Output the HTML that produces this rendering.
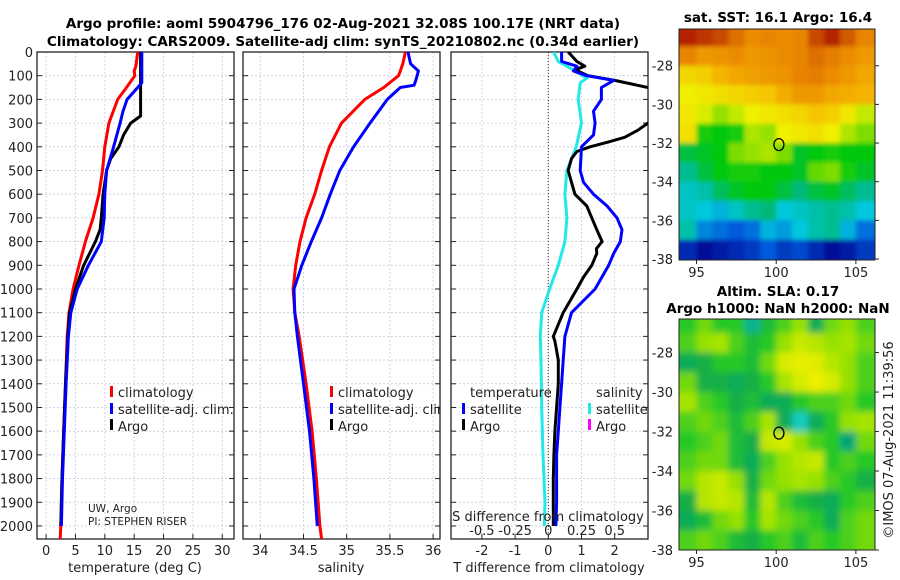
<!DOCTYPE html>
<html><head><meta charset="utf-8"><style>
body{margin:0;background:#fff;}
svg{display:block;font-family:"DejaVu Sans","Liberation Sans",sans-serif;}
.t{font-size:13px;fill:#222;}
.b{font-size:13.5px;font-weight:bold;fill:#000;}
</style></head><body>
<svg id="fig" width="900" height="580" viewBox="0 0 900 580" xmlns="http://www.w3.org/2000/svg">
<defs>
<clipPath id="c1"><rect x="37" y="52" width="197" height="487"/></clipPath>
<clipPath id="c2"><rect x="243" y="52" width="197" height="487"/></clipPath>
<clipPath id="c3"><rect x="451" y="52" width="197" height="487"/></clipPath>
<clipPath id="cm1"><rect x="679" y="29" width="196" height="231"/></clipPath>
<clipPath id="cm2"><rect x="679" y="319" width="196" height="231"/></clipPath>
<filter id="blur5" x="-10%" y="-10%" width="120%" height="120%"><feGaussianBlur stdDeviation="3.5"/></filter>
<filter id="blur2" x="-10%" y="-10%" width="120%" height="120%"><feGaussianBlur stdDeviation="2"/></filter>
</defs>
<text class="b" x="343" y="28" text-anchor="middle">Argo profile: aoml 5904796_176 02-Aug-2021 32.08S 100.17E (NRT data)</text>
<text class="b" x="343" y="46" text-anchor="middle">Climatology: CARS2009. Satellite-adj clim: synTS_20210802.nc (0.34d earlier)</text>
<g id="layer"></g>
</svg>
<script>
// ---------- data ----------
const depthTicks=[0,100,200,300,400,500,600,700,800,900,1000,1100,1200,1300,1400,1500,1600,1700,1800,1900,2000];
const tTickLabels=[0,5,10,15,20,25,30];
const sTickLabels=[34,34.5,35,35.5,36];
const dTTicks=[-2,-1,0,1,2];
const dSTickLabels=["-0.5","-0.25","0","0.25","0.5"];
const dSTicks=[-0.5,-0.25,0,0.25,0.5];

const tempClimDepth=[0,60,80,100,150,200,300,400,500,600,700,800,900,1000,1100,1200,1400,1600,1800,2000,2055];
const tempClim=[15.6,15.3,15.0,15.1,13.7,12.2,10.7,10.0,9.6,9.0,8.0,6.7,5.6,4.6,3.9,3.6,3.3,3.0,2.7,2.5,2.4];
const tempSatDepth=[0,130,150,200,250,300,400,500,600,700,800,900,1000,1100,1200,1400,1600,1800,2000];
const tempSat=[16.3,16.3,15.6,13.8,13.1,12.6,11.5,10.3,10.0,9.9,9.4,7.2,5.3,4.2,3.8,3.4,3.1,2.8,2.6];
const tempArgoDepth=[0,270,300,350,400,450,500,600,700,750,800,900,1000,1100,1200,1400,1600,1800,2000];
const tempArgo=[16.1,16.1,14.4,13.2,12.4,11.0,10.3,9.7,9.4,9.2,8.4,6.4,5.0,4.0,3.7,3.3,3.0,2.7,2.5];

const salClimDepth=[0,50,80,100,150,200,300,400,500,600,700,800,900,1000,1100,1200,1400,1600,1800,2000,2055];
const salClim=[35.68,35.65,35.62,35.60,35.43,35.21,34.94,34.80,34.71,34.63,34.53,34.46,34.41,34.38,34.40,34.45,34.53,34.60,34.65,34.69,34.71];
const salSatDepth=[0,50,80,120,140,150,200,300,400,500,600,700,800,900,1000,1100,1200,1400,1600,1800,2000];
const salSat=[35.71,35.74,35.83,35.80,35.78,35.62,35.47,35.27,35.08,34.92,34.81,34.71,34.59,34.48,34.39,34.40,34.43,34.50,34.57,34.62,34.66];

const dTArgoDepth=[0,40,60,75,100,120,150,200,250,300,330,360,380,400,420,450,500,550,600,650,700,750,800,830,850,900,950,1000,1100,1200,1220,1300,1400,1500,1600,1700,1800,1900,2000];
const dTArgo=[0.6,0.86,1.1,0.8,1.2,2.0,3.0,3.8,3.8,3.0,2.7,2.3,1.8,1.26,0.86,0.7,0.6,0.7,0.8,1.16,1.31,1.46,1.62,1.45,1.46,1.31,1.06,0.86,0.45,0.15,0.2,0.3,0.3,0.25,0.2,0.17,0.15,0.15,0.15];
const dTSatDepth=[0,40,60,80,100,120,150,200,250,300,350,400,500,550,600,650,700,750,800,850,900,1000,1100,1200,1300,1400,1500,1600,1700,1800,1900,2000];
const dTSat=[0.4,0.4,0.86,0.76,1.16,1.97,1.6,1.6,1.36,1.41,1.36,1.0,0.96,1.06,1.36,1.77,2.07,2.22,2.17,1.97,1.82,1.41,0.7,0.5,0.45,0.4,0.35,0.3,0.25,0.25,0.25,0.23];
const dSSatDepth=[0,40,60,80,110,130,200,300,400,500,600,700,800,900,1000,1100,1200,1300,1500,1700,1900,2000];
const dSSat=[0.04,0.075,0.14,0.2,0.29,0.24,0.225,0.25,0.21,0.14,0.125,0.14,0.125,0.075,0.01,-0.05,-0.06,-0.055,-0.05,-0.04,-0.025,-0.03];

// SST map (rows -26..-38, cols 94..106 by 1 deg)
const sstGrid=[
[18.8,18.7,18.6,18.2,17.8,17.9,17.8,17.9,18.6,18.8,18.5,17.9],
[17.9,17.6,17.7,17.8,17.6,17.7,17.8,17.9,18.2,18.0,17.8,17.6],
[16.8,16.9,17.2,17.4,17.5,17.6,17.7,17.9,18.0,17.8,17.6,17.4],
[16.5,16.6,16.7,16.8,16.9,17.0,17.3,17.6,17.6,17.4,17.3,17.2],
[16.6,16.4,16.1,16.3,16.5,16.6,16.7,16.8,17.0,16.9,16.6,16.3],
[16.7,15.6,15.5,15.6,16.2,16.1,16.5,16.6,16.7,16.5,16.2,16.0],
[15.3,15.4,15.5,16.0,16.1,16.2,16.0,15.4,15.5,15.6,15.5,15.5],
[15.0,15.3,15.5,15.6,15.6,15.5,15.5,15.4,15.9,16.0,15.6,15.4],
[14.8,14.9,15.2,15.4,15.5,15.5,15.3,15.1,15.3,15.4,15.2,15.0],
[14.8,14.7,14.6,14.8,15.0,15.1,14.7,14.8,14.9,15.0,14.9,14.7],
[14.9,14.4,14.3,14.2,14.3,14.6,14.5,14.7,14.9,15.0,14.6,14.3],
[13.9,13.7,13.8,13.9,14.0,14.2,14.0,14.1,13.9,13.6,13.8,14.0]];
const slaGrid=[
[0.45,0.55,0.45,0.45,0.15,0.4,0.5,0.6,0.3,0.55,0.6,0.5],
[0.5,0.6,0.65,0.5,0.4,0.45,0.6,0.75,0.7,0.6,0.65,0.55],
[0.3,0.35,0.45,0.45,0.4,0.55,0.8,0.9,0.85,0.7,0.6,0.5],
[0.55,0.35,0.35,0.3,0.35,0.45,0.65,0.8,0.95,0.8,0.6,0.5],
[0.65,0.5,0.45,0.35,0.4,0.3,0.3,0.45,0.5,0.5,0.55,0.45],
[0.5,0.55,0.5,0.4,0.5,0.65,0.3,0.05,0.3,0.45,0.6,0.65],
[0.45,0.5,0.55,0.4,0.35,0.75,0.8,0.6,0.5,0.45,0.2,0.55],
[0.5,0.55,0.55,0.4,0.3,0.5,0.6,0.7,0.75,0.45,0.5,0.45],
[0.55,0.7,0.75,0.6,0.35,0.55,0.6,0.65,0.6,0.5,0.45,0.35],
[0.35,0.7,0.75,0.7,0.4,0.7,0.5,0.4,0.35,0.3,0.45,0.5],
[0.3,0.4,0.55,0.6,0.45,0.65,0.55,0.5,0.45,0.3,0.5,0.55],
[0.5,0.55,0.5,0.4,0.35,0.45,0.5,0.4,0.5,0.45,0.5,0.55]];
const latTickLabels=[-28,-30,-32,-34,-36,-38];
const lonTickLabels=[95,100,105];
const argoLon=100.17, argoLat=-32.08;

// ---------- helpers ----------
const NS="http://www.w3.org/2000/svg";
const L=document.getElementById('layer');
function mk(tag,attrs,parent){const e=document.createElementNS(NS,tag);for(const k in attrs)e.setAttribute(k,attrs[k]);(parent||L).appendChild(e);return e;}
const Y0=52,Y1=539,DMAX=2055;
const yD=d=>Y0+d/DMAX*(Y1-Y0);
const xT=v=>37+(v+1.55)/(33.55)*197;
const xS=v=>243+(v-33.80)/(2.28)*197;
const xDT=v=>548.3+v*33.2;
const xDS=v=>548.3+v*132.8;

function panel(x0,name){
  const g=mk('g',{});
  
  
  for(const d of depthTicks){const y=yD(d);
    const gl=mk('line',{x1:x0,x2:x0+197,y1:y,y2:y,stroke:'#c4cbe0','stroke-width':0.8,'stroke-dasharray':'2,2'},g);
    
    
    mk('line',{x1:x0,x2:x0+5,y1:y,y2:y,stroke:'#222','stroke-width':1},g);
    mk('line',{x1:x0+192,x2:x0+197,y1:y,y2:y,stroke:'#222','stroke-width':1},g);
  }
  return g;
}
function vgrid(g,x){const l=mk('line',{x1:x,x2:x,y1:Y0,y2:Y1,stroke:'#c4cbe0','stroke-width':0.8,'stroke-dasharray':'2,2'},g);
  
  }
function frame(x0,g){const r=mk('rect',{x:x0,y:Y0,width:197,height:Y1-Y0,fill:'none',stroke:'#222','stroke-width':1.3},g);
  
  }
function line(xs,ds,xf,color,clip,name,w){
  const p=xs.map((v,i)=>(i?'L':'M')+xf(v).toFixed(1)+','+yD(ds[i]).toFixed(1)).join('');
  const e=mk('path',{d:p,fill:'none',stroke:color,'stroke-width':w||3,'stroke-linejoin':'round','clip-path':'url(#'+clip+')'});
  
  
}
function text(x,y,s,anchor,cls,name,extra){const t=mk('text',Object.assign({x:x,y:y,'text-anchor':anchor||'start',class:cls||'t'},extra||{}));t.textContent=s;
  
  
  return t;}
function legendMark(x,y,color){const r=mk('rect',{x:x,y:y-11,width:3,height:11,fill:color});
  
  }

// Panel 1 temperature
let g1=panel(37,'temperature-panel');
for(const v of tTickLabels){vgrid(g1,xT(v));text(xT(v),555,String(v),'middle','t','x-tick-label');
  mk('line',{x1:xT(v),x2:xT(v),y1:Y1,y2:Y1-5,stroke:'#222'},g1);}
for(const d of depthTicks){text(33,yD(d)+5,String(d),'end','t','depth-tick-label');}
frame(37,g1);
text(135,572,'temperature (deg C)','middle','t','x-axis-title');
line(tempClim,tempClimDepth,xT,'#ff0000','c1','climatology-temperature-line');
line(tempArgo,tempArgoDepth,xT,'#000000','c1','argo-temperature-line');
line(tempSat,tempSatDepth,xT,'#0000ff','c1','satellite-temperature-line');
legendMark(110,397,'#ff0000');text(118,397,'climatology','start','t','legend-entry');
legendMark(110,414,'#0000ff');text(118,414,'satellite-adj. clim.','start','t','legend-entry');
legendMark(110,430,'#000000');text(118,431,'Argo','start','t','legend-entry');
text(88,512,'UW, Argo','start','t','pi-institution',{style:'font-size:10.5px'});
text(88,525,'PI: STEPHEN RISER','start','t','pi-name',{style:'font-size:10.5px'});

// Panel 2 salinity
let g2=panel(243,'salinity-panel');
for(const v of sTickLabels){vgrid(g2,xS(v));text(xS(v),555,String(v),'middle','t','x-tick-label');
  mk('line',{x1:xS(v),x2:xS(v),y1:Y1,y2:Y1-5,stroke:'#222'},g2);}
frame(243,g2);
text(341,572,'salinity','middle','t','x-axis-title');
line(salClim,salClimDepth,xS,'#ff0000','c2','climatology-salinity-line');
line(salSat,salSatDepth,xS,'#0000ff','c2','satellite-salinity-line');
legendMark(330,397,'#ff0000');text(338,397,'climatology','start','t','legend-entry');
legendMark(330,414,'#0000ff');text(338,414,'satellite-adj. clim.','start','t','legend-entry',{'clip-path':'url(#c2)'});
legendMark(330,430,'#000000');text(338,431,'Argo','start','t','legend-entry');

// Panel 3 differences
let g3=panel(451,'difference-panel');
for(const v of dTTicks){vgrid(g3,xDT(v));text(xDT(v),555,String(v),'middle','t','x-tick-label');
  mk('line',{x1:xDT(v),x2:xDT(v),y1:Y1,y2:Y1-5,stroke:'#222'},g3);}
frame(451,g3);
const z=mk('line',{x1:xDT(0),x2:xDT(0),y1:Y0,y2:Y1,stroke:'#333','stroke-width':1,'stroke-dasharray':'1,2'});


text(549,572,'T difference from climatology','middle','t','x-axis-title');
line(dSSat,dSSatDepth,xDS,'#22e8e8','c3','satellite-salinity-diff-line');
line(dTArgo,dTArgoDepth,xDT,'#000000','c3','argo-temperature-diff-line');
line(dTSat,dTSatDepth,xDT,'#0000ff','c3','satellite-temperature-diff-line');
text(470,397,'temperature','start','t','legend-title');
text(596,397,'salinity','start','t','legend-title');
legendMark(462,414,'#0000ff');text(470,414,'satellite','start','t','legend-entry');
legendMark(462,430,'#000000');text(470,431,'Argo','start','t','legend-entry');
legendMark(588,414,'#22e8e8');text(596,414,'satellite','start','t','legend-entry');
legendMark(588,430,'#ff00ff');text(596,431,'Argo','start','t','legend-entry');
text(548,521,'S difference from climatology','middle','t','s-axis-title');
dSTicks.forEach((v,i)=>text(xDS(v),535,dSTickLabels[i],'middle','t','s-tick-label'));

// ---------- maps ----------
function interp(stops,t){
  if(t<=stops[0][0]){const s=stops[0];return 'rgb('+s[1]+','+s[2]+','+s[3]+')';}
  for(let i=1;i<stops.length;i++){if(t<=stops[i][0]){const a=stops[i-1],b=stops[i],f=(t-a[0])/(b[0]-a[0]);
    return 'rgb('+[1,2,3].map(k=>Math.round(a[k]+(b[k]-a[k])*f)).join(',')+')';}}
  const s=stops[stops.length-1];return 'rgb('+s[1]+','+s[2]+','+s[3]+')';}
const sstStops=[[13.7,0,10,150],[14.2,0,90,220],[14.7,0,200,220],[15.1,0,185,120],[15.5,0,200,10],[16.1,150,225,0],[16.5,240,240,0],[17.2,245,180,0],[17.8,235,140,0],[18.5,210,90,0],[19.0,160,0,0]];
const slaStops=[[0,30,215,215],[0.2,0,165,120],[0.35,20,175,70],[0.45,40,200,40],[0.6,150,225,0],[0.8,215,235,0],[1,245,240,0]];
function map(x0,y0,w,h,grid,colf,name,latTop,latBot,clip,filt){
  const outer=mk('g',{'clip-path':'url(#'+clip+')'});
  
  
  const g=mk('g',{filter:'url(#'+filt+')'},outer);
  const lonL=93.9,lonR=106.2;
  const xL=v=>x0+(v-lonL)/(lonR-lonL)*w;
  const yL=v=>y0+(latTop-v)/(latTop-latBot)*h;
  grid.forEach((row,r)=>row.forEach((v,c)=>{
    const la=-26-r,lo=94+c;
    let xa=xL(lo),xb=xL(lo+1),ya=yL(la),yb=yL(la-1);
    if(c===0)xa-=12; if(c===row.length-1)xb+=12;
    if(r===0)ya-=12; if(r===grid.length-1)yb+=12;
    const cell=mk('rect',{x:xa,y:ya,width:xb-xa+0.5,height:yb-ya+0.5,fill:colf(v)},g);
    
    
  }));
  const fr=mk('rect',{x:x0,y:y0,width:w,height:h,fill:'none',stroke:'#222','stroke-width':1});
  
  
  for(const v of latTickLabels){const y=yL(v);mk('line',{x1:x0+w,x2:x0+w+4,y1:y,y2:y,stroke:'#222'});
    text(x0-6,y+5,String(v),'end','t','lat-tick-label');}
  for(const v of lonTickLabels){const x=xL(v);mk('line',{x1:x,x2:x,y1:y0+h,y2:y0+h+4,stroke:'#222'});
    text(x,y0+h+17,String(v),'middle','t','lon-tick-label');}
  const c=mk('ellipse',{cx:xL(argoLon),cy:yL(argoLat),rx:5,ry:6,fill:'none',stroke:'#000','stroke-width':1.3});
  
  
}
map(679,29,196,231,sstGrid,v=>interp(sstStops,v),'sst-map',-26.1,-38.05,'cm1','blur2');
map(679,319,196,231,slaGrid,v=>interp(slaStops,v),'sla-map',-26.3,-38.0,'cm2','blur5');
text(778,22,'sat. SST: 16.1 Argo: 16.4','middle','b','sst-map-title');
text(778,296,'Altim. SLA: 0.17','middle','b','sla-map-title');
text(778,313,'Argo h1000: NaN h2000: NaN','middle','b','sla-map-subtitle');
text(0,0,'©IMOS 07-Aug-2021 11:39:56','middle','t','copyright-timestamp',{transform:'translate(893,440) rotate(-90)'});
</script>
</body></html>
